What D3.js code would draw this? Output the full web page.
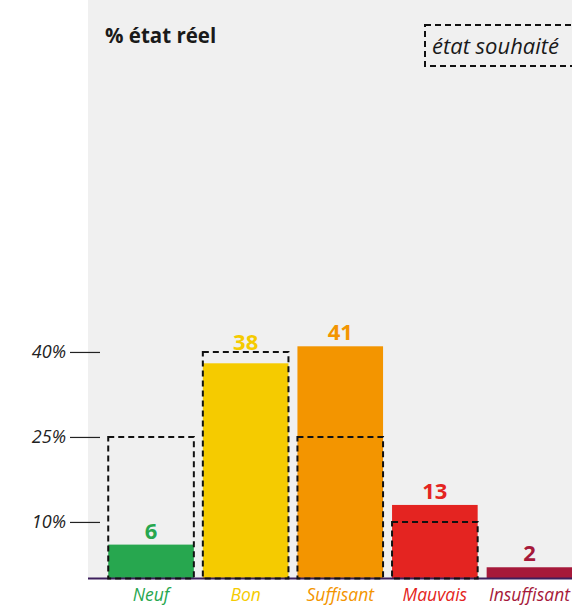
<!DOCTYPE html>
<html>
<head>
<meta charset="utf-8">
<script src="https://cdn.jsdelivr.net/npm/d3@7"></script>
<style>
  html, body { margin: 0; padding: 0; background: #ffffff; }
  svg { display: block; font-family: "Open Sans", sans-serif; }
</style>
</head>
<body>
<svg id="chart" width="572" height="606"></svg>
<script>
// Condition categories and their colours
const categories = ["Neuf", "Bon", "Suffisant", "Mauvais", "Insuffisant"];
const colors = ["#27a74f", "#f5cb00", "#f39500", "#e42421", "#a6193a"];
// Actual condition (%)
const actualValues = [6, 38, 41, 13, 2];
// Target condition (%)
const targetValues = [25, 40, 25, 10, 0];
// Y axis ticks
const yTicks = [10, 25, 40];

const data = categories.map((c, i) => ({
  name: c, color: colors[i], actual: actualValues[i], target: targetValues[i]
}));

const svg = d3.select("#chart");

const panel = { x0: 88, x1: 572, y0: 0 };

const y = d3.scaleLinear().domain([0, 100]).range([578.6, 12]);
const x = d3.scaleBand()
  .domain(categories)
  .range([103.5, 577])
  .paddingInner(0.095)
  .paddingOuter(0.05);

// Grey plotting panel
svg.append("rect")
  .attr("x", panel.x0).attr("y", panel.y0)
  .attr("width", panel.x1 - panel.x0)
  .attr("height", y(0) - panel.y0)
  .attr("fill", "#f0f0f0");

// Y axis: ticks only, labels in italic
const yAxis = svg.append("g")
  .attr("transform", "translate(100,0)")
  .call(d3.axisLeft(y).tickValues(yTicks).tickSize(30).tickPadding(4)
    .tickFormat(d => d + "%"));
yAxis.select(".domain").remove();
yAxis.selectAll(".tick line").attr("stroke", "#222").attr("stroke-width", 1.2);
yAxis.selectAll(".tick text")
  .attr("fill", "#222")
  .style("font-family", "'Open Sans', sans-serif")
  .style("font-style", "italic")
  .style("font-size", "18px");

// Actual condition bars
svg.append("g").selectAll("rect")
  .data(data).join("rect")
  .attr("x", d => x(d.name))
  .attr("y", d => y(d.actual))
  .attr("width", x.bandwidth())
  .attr("height", d => y(0) - y(d.actual))
  .attr("fill", d => d.color);

// Baseline
svg.append("line")
  .attr("x1", panel.x0).attr("x2", panel.x1)
  .attr("y1", y(0)).attr("y2", y(0))
  .attr("stroke", "#3d1f5c").attr("stroke-width", 2);

// Target condition outlines
svg.append("g").selectAll("rect")
  .data(data.filter(d => d.target > 0)).join("rect")
  .attr("x", d => x(d.name))
  .attr("y", d => y(d.target))
  .attr("width", x.bandwidth())
  .attr("height", d => y(0) - y(d.target))
  .attr("fill", "none")
  .attr("stroke", "#111")
  .attr("stroke-width", 2)
  .attr("stroke-dasharray", "6,4");

// Value labels above bars (lifted above a target outline that sits just over the bar)
svg.append("g").selectAll("text")
  .data(data).join("text")
  .attr("x", d => x(d.name) + x.bandwidth() / 2)
  .attr("y", d => {
    const yb = y(d.actual), yt = y(d.target);
    const top = (d.target > d.actual && yb - yt < 25) ? yt + 4 : yb;
    return top - 6;
  })
  .attr("text-anchor", "middle")
  .attr("fill", d => d.color)
  .style("font-weight", "700")
  .style("font-size", "22px")
  .text(d => d.actual);

// Category labels
svg.append("g").selectAll("text")
  .data(data).join("text")
  .attr("x", d => x(d.name) + x.bandwidth() / 2)
  .attr("y", 601)
  .attr("text-anchor", "middle")
  .attr("fill", d => d.color)
  .style("font-style", "italic")
  .style("font-size", "17.5px")
  .text(d => d.name);

// Title
svg.append("text")
  .attr("x", 105).attr("y", 43)
  .attr("fill", "#1a1a1a")
  .style("font-weight", "700")
  .style("font-size", "20.5px")
  .text("% état réel");

// Legend (box runs off the right edge)
svg.append("rect")
  .attr("x", 425).attr("y", 25)
  .attr("width", 160).attr("height", 41)
  .attr("fill", "none")
  .attr("stroke", "#111")
  .attr("stroke-width", 2)
  .attr("stroke-dasharray", "6,4");
svg.append("text")
  .attr("x", 432).attr("y", 54)
  .attr("fill", "#1a1a1a")
  .style("font-style", "italic")
  .style("font-size", "22px")
  .text("état souhaité");
</script>
</body>
</html>
